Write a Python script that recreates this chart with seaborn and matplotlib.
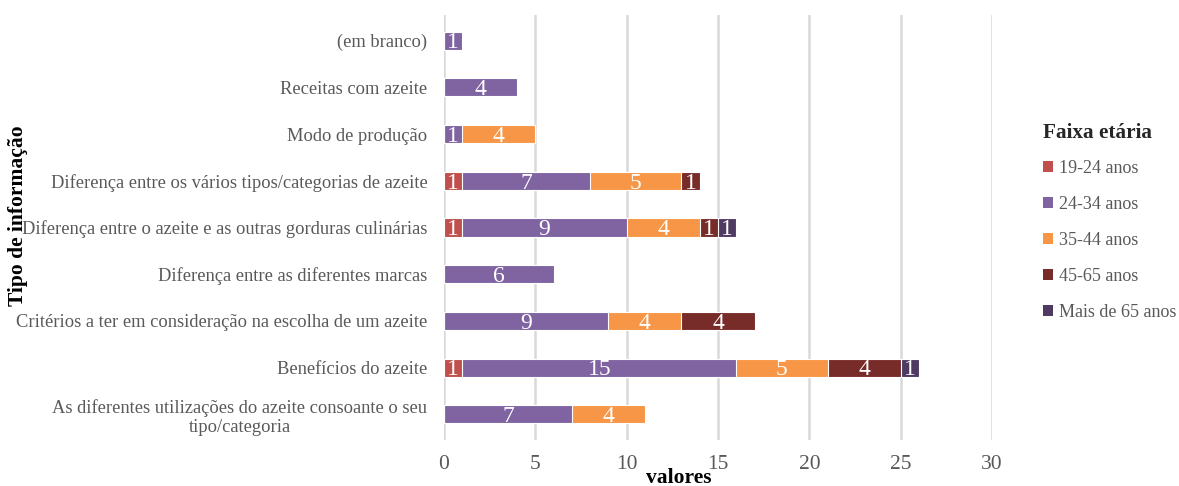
import numpy as np
import pandas as pd
import matplotlib
matplotlib.use("Agg")
import matplotlib.pyplot as plt
import seaborn as sns
from matplotlib.patches import Patch

# Information topics (top to bottom) and counts per age group
categorias = [
    "(em branco)",
    "Receitas com azeite",
    "Modo de produção",
    "Diferença entre os vários tipos/categorias de azeite",
    "Diferença entre o azeite e as outras gorduras culinárias",
    "Diferença entre as diferentes marcas",
    "Critérios a ter em consideração na escolha de um azeite",
    "Benefícios do azeite",
    "As diferentes utilizações do azeite consoante o seu\ntipo/categoria",
]
faixas = ["19-24 anos", "24-34 anos", "35-44 anos", "45-65 anos", "Mais de 65 anos"]

v_19_24 = [0, 0, 0, 1, 1, 0, 0, 1, 0]
v_24_34 = [1, 4, 1, 7, 9, 6, 9, 15, 7]
v_35_44 = [0, 0, 4, 5, 4, 0, 4, 5, 4]
v_45_65 = [0, 0, 0, 1, 1, 0, 4, 4, 0]
v_65_mais = [0, 0, 0, 0, 1, 0, 0, 1, 0]

cores = ["#C0504D", "#8064A2", "#F79646", "#772C2A", "#4F3B62"]
x_ticks = [0, 5, 10, 15, 20, 25, 30]

sns.set_theme(style="white")
plt.rcParams["font.family"] = ["Liberation Serif", "DejaVu Serif"]

series = [v_19_24, v_24_34, v_35_44, v_45_65, v_65_mais]
df = pd.DataFrame({f: s for f, s in zip(faixas, series)}, index=categorias)
cum = df.cumsum(axis=1)

fig = plt.figure(figsize=(11.79, 4.86), dpi=100)
ax = fig.add_axes([444 / 1179, 1 - 440 / 486, (992 - 444) / 1179, (440 - 15) / 486])

bar_h = 0.39
# Stacked bars: draw cumulative totals from the last group back to the first
for faixa, cor in reversed(list(zip(faixas, cores))):
    d = pd.DataFrame({"categoria": categorias, "total": cum[faixa].values})
    sns.barplot(data=d, y="categoria", x="total", order=categorias, color=cor,
                orient="h", width=bar_h, edgecolor="white", linewidth=0.8,
                saturation=1, ax=ax, zorder=3)

# Value labels at each segment centre
for i, cat in enumerate(categorias):
    left = 0
    for faixa in faixas:
        v = df.loc[cat, faixa]
        if v > 0:
            ax.text(left + v / 2, i + 0.165, str(v), ha="center", va="baseline",
                    color="white", fontsize=17, zorder=5)
        left += v

ax.set_xlim(0, 30)
ax.set_ylim(8.55, -0.55)
ax.set_xticks(x_ticks)
ax.set_xticklabels([str(t) for t in x_ticks])
ax.grid(axis="x", color="#D9D9D9", linewidth=1.8, zorder=0)
ax.grid(axis="y", visible=False)
for s in ax.spines.values():
    s.set_visible(False)
ax.tick_params(axis="x", labelsize=15.5, colors="#595959", pad=11, length=0)
ax.tick_params(axis="y", labelsize=13.3, colors="#595959", pad=12, length=0)
for lbl in ax.get_yticklabels():
    lbl.set_horizontalalignment("right")
    lbl.set_multialignment("center")
ax.set_xlabel("")
ax.set_ylabel("")

fig.text(679 / 1179, 1 - 478 / 486, "valores", ha="center", va="center",
         fontsize=15.5, fontweight="bold", color="black")
fig.text(18 / 1179, 1 - 216 / 486, "Tipo de informação", ha="center", va="center",
         rotation=90, fontsize=15.5, fontweight="bold", color="black")

handles = [Patch(facecolor=c, edgecolor="none") for c in cores]
leg = fig.legend(handles, faixas, title="Faixa etária", loc="upper left",
                 bbox_to_anchor=(1027 / 1179, 1 - 107 / 486), frameon=False,
                 fontsize=13, title_fontproperties={"weight": "bold", "size": 15.3},
                 handlelength=0.55, handleheight=0.55, handletextpad=0.3,
                 labelspacing=1.05, alignment="left")
leg._legend_box.sep = 12
for t in leg.get_texts():
    t.set_color("#595959")

fig.savefig("out.png", dpi=100)
